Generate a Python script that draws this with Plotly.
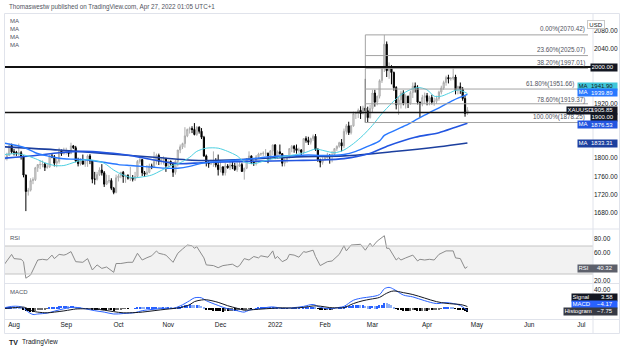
import plotly.graph_objects as go
import pandas as pd

# ---------------- data ----------------
bars = pd.bdate_range("2021-07-26", "2022-04-26")  # daily XAUUSD bars

opens = [
    1802, 1797, 1799, 1806, 1828,
    1814, 1813, 1810, 1812, 1804, 1763, 1727, 1730, 1751, 1753, 1779, 1786, 1786, 1787, 1780, 1781, 1805, 1803, 1789, 1793, 1817, 1810,
    1814, 1815, 1810, 1827, 1823, 1794, 1788, 1794, 1787, 1794, 1805, 1794, 1754, 1754, 1764, 1774, 1768, 1743, 1750, 1751, 1734, 1725,
    1757, 1761, 1769, 1760, 1762, 1756, 1757, 1754, 1760, 1793, 1797, 1768, 1765, 1769, 1783, 1782, 1793, 1806, 1793, 1797, 1799,
    1783, 1793, 1788, 1769, 1793, 1818, 1825, 1832, 1849, 1863, 1865, 1863, 1852, 1868, 1859, 1846, 1805, 1790, 1788, 1790, 1792, 1785,
    1775, 1781, 1768, 1783, 1779, 1785, 1783, 1775, 1783, 1786, 1771, 1778, 1799, 1805, 1791, 1789, 1803, 1809, 1810, 1811, 1811, 1805, 1816,
    1829, 1801, 1814, 1810, 1789, 1797, 1801, 1821, 1826, 1821, 1817, 1818, 1813, 1843, 1839, 1835, 1843, 1848, 1819, 1797, 1791,
    1797, 1801, 1807, 1804, 1808, 1821, 1826, 1834, 1827, 1859, 1871, 1856, 1871, 1898, 1898, 1905, 1898, 1910, 1904, 1889,
    1909, 1943, 1923, 1936, 1970, 1998, 2050, 1992, 2000, 1988, 1955, 1917, 1928, 1943, 1921, 1936, 1921, 1944, 1958, 1954, 1923, 1919, 1933,
    1937, 1925, 1933, 1923, 1925, 1931, 1945, 1954, 1966, 1977, 1974, 1975, 1978, 1949, 1957, 1951, 1931, 1898,
]
highs = [
    1810, 1806, 1812, 1832, 1832,
    1820, 1816, 1832, 1816, 1806, 1764, 1735, 1756, 1758, 1781, 1787, 1795, 1795, 1790, 1787, 1806, 1810, 1807, 1800, 1823, 1819, 1823,
    1823, 1816, 1834, 1829, 1827, 1801, 1800, 1808, 1796, 1808, 1809, 1796, 1770, 1770, 1780, 1787, 1772, 1764, 1763, 1756, 1737, 1764,
    1765, 1770, 1772, 1764, 1765, 1781, 1763, 1770, 1796, 1800, 1798, 1772, 1785, 1788, 1788, 1814, 1810, 1810, 1802, 1804, 1801,
    1795, 1795, 1791, 1797, 1818, 1830, 1834, 1868, 1865, 1869, 1870, 1877, 1870, 1870, 1866, 1849, 1808, 1794, 1797, 1815, 1800, 1808,
    1792, 1782, 1790, 1787, 1793, 1793, 1790, 1791, 1792, 1790, 1779, 1800, 1815, 1806, 1795, 1807, 1812, 1812, 1815, 1820, 1812, 1818, 1830,
    1831, 1817, 1830, 1811, 1800, 1805, 1822, 1829, 1829, 1830, 1823, 1820, 1844, 1848, 1847, 1845, 1852, 1853, 1822, 1799, 1802,
    1806, 1812, 1808, 1816, 1822, 1828, 1836, 1842, 1865, 1875, 1880, 1873, 1902, 1902, 1909, 1914, 1915, 1974, 1913, 1917,
    1950, 1950, 1937, 1973, 2002, 2070.42, 2056, 2010, 2004, 1990, 1958, 1934, 1948, 1949, 1940, 1937, 1948, 1966, 1966, 1960, 1924, 1939, 1944,
    1943, 1937, 1939, 1933, 1937, 1948, 1959, 1970, 1981, 1983, 1978, 1998, 1983, 1959, 1966, 1956, 1937, 1912,
]
lows = [
    1794, 1791, 1795, 1805, 1810,
    1806, 1805, 1805, 1797, 1758, 1684, 1718, 1727, 1743, 1750, 1770, 1776, 1780, 1772, 1777, 1779, 1800, 1782, 1780, 1788, 1805, 1808,
    1808, 1803, 1809, 1820, 1791, 1782, 1784, 1786, 1781, 1781, 1787, 1745, 1742, 1751, 1761, 1762, 1737, 1741, 1745, 1730, 1721, 1723,
    1749, 1756, 1746, 1746, 1753, 1750, 1749, 1750, 1757, 1788, 1761, 1759, 1763, 1767, 1776, 1778, 1786, 1785, 1786, 1786, 1770,
    1780, 1784, 1759, 1764, 1782, 1811, 1820, 1823, 1846, 1854, 1855, 1850, 1849, 1854, 1842, 1803, 1782, 1779, 1785, 1781, 1780, 1762,
    1769, 1762, 1762, 1777, 1774, 1776, 1772, 1770, 1781, 1770, 1753, 1776, 1795, 1787, 1783, 1784, 1799, 1805, 1805, 1805, 1789, 1797, 1807,
    1798, 1799, 1808, 1782, 1782, 1790, 1800, 1813, 1812, 1810, 1812, 1805, 1809, 1834, 1829, 1830, 1838, 1816, 1792, 1780, 1786,
    1795, 1799, 1788, 1791, 1805, 1816, 1823, 1815, 1822, 1852, 1851, 1852, 1869, 1886, 1888, 1886, 1896, 1878.25, 1879, 1887,
    1900, 1913, 1916, 1931, 1965, 1989, 1978, 1974, 1962, 1948, 1907, 1895, 1909, 1916, 1909, 1910, 1917, 1932, 1944, 1918, 1890, 1914, 1919,
    1916, 1916, 1918, 1915, 1919, 1926, 1940, 1950, 1959, 1964, 1970, 1971, 1940, 1940, 1941, 1926, 1891, 1895,
]
closes = [
    1797, 1799, 1806, 1828, 1814,
    1813, 1810, 1812, 1804, 1763, 1727, 1730, 1751, 1753, 1779, 1786, 1786, 1787, 1780, 1781, 1805, 1803, 1789, 1793, 1817, 1810, 1814,
    1815, 1810, 1827, 1823, 1794, 1788, 1794, 1787, 1794, 1805, 1794, 1754, 1754, 1764, 1774, 1768, 1743, 1750, 1751, 1734, 1725, 1757,
    1761, 1769, 1760, 1762, 1756, 1757, 1754, 1760, 1793, 1797, 1768, 1765, 1769, 1783, 1782, 1793, 1806, 1793, 1797, 1799, 1783,
    1793, 1788, 1769, 1793, 1818, 1825, 1832, 1849, 1863, 1865, 1863, 1852, 1868, 1859, 1846, 1805, 1790, 1788, 1790, 1792, 1785, 1775,
    1781, 1768, 1783, 1779, 1785, 1783, 1775, 1783, 1786, 1771, 1778, 1799, 1805, 1791, 1789, 1803, 1809, 1810, 1811, 1811, 1805, 1816, 1829,
    1801, 1814, 1810, 1789, 1797, 1801, 1821, 1826, 1821, 1817, 1818, 1813, 1843, 1839, 1835, 1843, 1848, 1819, 1797, 1791, 1797,
    1801, 1807, 1804, 1808, 1821, 1826, 1834, 1827, 1859, 1871, 1856, 1871, 1898, 1898, 1905, 1898, 1910, 1904, 1889, 1909,
    1943, 1923, 1936, 1970, 1998, 2050, 1992, 2000, 1988, 1955, 1917, 1928, 1943, 1921, 1936, 1921, 1944, 1958, 1954, 1923, 1919, 1933, 1937,
    1925, 1933, 1923, 1925, 1931, 1945, 1954, 1966, 1977, 1974, 1975, 1978, 1949, 1957, 1951, 1931, 1898, 1905.85,
]

ma20_dates = ["2021-07-27", "2021-08-03", "2021-08-09", "2021-08-13", "2021-08-19", "2021-08-25", "2021-08-31",
              "2021-09-07", "2021-09-13", "2021-09-17", "2021-09-23", "2021-09-29", "2021-10-05", "2021-10-11",
              "2021-10-15", "2021-10-21", "2021-10-27", "2021-11-02", "2021-11-08", "2021-11-12", "2021-11-17",
              "2021-11-23", "2021-11-30", "2021-12-06", "2021-12-10", "2021-12-15", "2021-12-21", "2021-12-28",
              "2022-01-04", "2022-01-10", "2022-01-14", "2022-01-20", "2022-01-26", "2022-02-01", "2022-02-07",
              "2022-02-11", "2022-02-17", "2022-02-23", "2022-03-01", "2022-03-07", "2022-03-11", "2022-03-16",
              "2022-03-22", "2022-03-28", "2022-04-01", "2022-04-06", "2022-04-11", "2022-04-14", "2022-04-20", "2022-04-26"]
ma20_vals = [1808, 1810, 1806, 1799, 1790, 1784, 1784, 1792, 1797, 1795, 1789, 1774, 1763, 1757, 1759, 1763, 1773,
             1783, 1790, 1802, 1815, 1822, 1822, 1815, 1805, 1792, 1788, 1795, 1801, 1805, 1808, 1813, 1820, 1816,
             1812, 1818, 1832, 1850, 1872, 1898, 1920, 1935, 1948, 1955, 1950, 1936, 1936, 1942, 1950, 1941.90]

ma50_dates = ["2021-07-27", "2021-08-06", "2021-08-13", "2021-08-20", "2021-08-27", "2021-09-03", "2021-09-10",
              "2021-09-17", "2021-09-24", "2021-10-01", "2021-10-08", "2021-10-15", "2021-10-22", "2021-10-29",
              "2021-11-05", "2021-11-12", "2021-11-19", "2021-11-26", "2021-12-03", "2021-12-10", "2021-12-17",
              "2021-12-24", "2021-12-31", "2022-01-07", "2022-01-14", "2022-01-21", "2022-01-28", "2022-02-04",
              "2022-02-11", "2022-02-18", "2022-02-25", "2022-03-04", "2022-03-08", "2022-03-14", "2022-03-21",
              "2022-03-28", "2022-04-04", "2022-04-11", "2022-04-18", "2022-04-26"]
ma50_vals = [1833, 1824, 1812, 1805, 1800, 1798, 1797, 1794, 1790, 1786, 1784, 1782, 1780, 1778, 1778, 1782, 1789,
             1792, 1794, 1796, 1798, 1801, 1804, 1805, 1806, 1807, 1806, 1806, 1808, 1815, 1826, 1838, 1850, 1860,
             1872, 1886, 1900, 1913, 1927, 1939.89]

ma100_dates = ["2021-07-27", "2021-08-13", "2021-08-27", "2021-09-10", "2021-09-24", "2021-10-08", "2021-10-22",
               "2021-11-05", "2021-11-19", "2021-12-03", "2021-12-17", "2021-12-31", "2022-01-14", "2022-01-28",
               "2022-02-11", "2022-02-25", "2022-03-10", "2022-03-25", "2022-04-08", "2022-04-19", "2022-04-26"]
ma100_vals = [1800, 1806, 1812, 1815, 1812, 1806, 1796, 1788, 1790, 1792, 1793, 1794, 1795, 1796, 1799, 1809,
              1828, 1846, 1856, 1868, 1876.53]

ma200_dates = ["2021-07-27", "2021-08-27", "2021-09-24", "2021-10-22", "2021-11-19", "2021-12-17", "2022-01-14",
               "2022-02-11", "2022-03-11", "2022-04-08", "2022-04-26"]
ma200_vals = [1825, 1818, 1810, 1802, 1795, 1798, 1803, 1805, 1814, 1825, 1833.31]

# RSI (14): bar number, value
rsi_bar = [1, 4, 5, 8, 9, 10, 12, 15, 17, 19, 21, 22, 24, 26, 27, 29, 31, 34, 36, 38, 40, 42, 44, 47, 48, 50, 53, 55,
           57, 59, 61, 63, 65, 66, 68, 69, 72, 74, 76, 78, 80, 81, 82, 85, 86, 89, 91, 93, 95, 97, 99, 100, 102, 104,
           106, 108, 109, 112, 114, 115, 116, 118, 120, 121, 123, 125, 127, 128, 131, 132, 134, 135, 137, 139, 141,
           142, 144, 145, 147, 149, 151, 153, 155, 156, 158, 161, 162, 163, 166, 167, 168, 170, 173, 175, 176, 178,
           180, 182, 184, 187, 190, 191, 193, 195, 196]
rsi_vals = [44, 58, 52, 51, 47.6, 24, 28.6, 50, 51, 50, 57, 52, 58, 57, 58, 62, 47.6, 46.7, 52, 35.7, 43, 38, 40,
            32.4, 45, 45, 46.7, 46.7, 59.6, 50, 53.3, 56, 62.9, 59.6, 58, 57, 46.7, 59.6, 65.7, 71.4, 70.4, 66.7, 69,
            53, 43, 42, 39, 42, 43, 44, 40, 42, 52, 50, 55, 53, 56, 54, 63, 52, 55, 47.6, 51, 58, 57, 54, 62, 61, 64,
            55, 42, 44, 47.6, 48.6, 55, 58, 70.4, 63, 71.4, 72.4, 72.4, 64, 74, 69, 77, 84.7, 66.7, 66.7, 50, 53, 50,
            53, 57, 48.6, 51, 50, 51, 50, 58, 63, 63, 53, 52, 38, 40.32]

# MACD (12, 26, 9)
macd_dates = ["2021-07-26", "2021-07-30", "2021-08-04", "2021-08-06", "2021-08-09", "2021-08-12", "2021-08-16",
              "2021-08-20", "2021-08-25", "2021-08-31", "2021-09-03", "2021-09-07", "2021-09-13", "2021-09-17",
              "2021-09-23", "2021-09-29", "2021-10-05", "2021-10-12", "2021-10-15", "2021-10-22", "2021-10-29",
              "2021-11-03", "2021-11-08", "2021-11-12", "2021-11-16", "2021-11-19", "2021-11-23", "2021-11-30",
              "2021-12-06", "2021-12-10", "2021-12-15", "2021-12-17", "2021-12-23", "2021-12-31", "2022-01-06",
              "2022-01-12", "2022-01-19", "2022-01-25", "2022-01-28", "2022-02-03", "2022-02-09", "2022-02-11",
              "2022-02-17", "2022-02-23", "2022-02-28", "2022-03-04", "2022-03-08", "2022-03-10", "2022-03-14",
              "2022-03-18", "2022-03-24", "2022-03-31", "2022-04-07", "2022-04-13", "2022-04-18", "2022-04-21",
              "2022-04-25", "2022-04-26"]
macd_vals = [0, 4, 4, 1, -4, -13, -12, -10, -6, -1, 2, 2, -1, -5, -8, -12, -11, -9, -5, -2, 0, 0, 5, 16, 22, 22,
             16, 6, -1, -5, -8, -4, -1, 3, 0, 1, 4, 8, 2, -1, 2, 4, 17, 22, 24, 29, 41, 44, 40, 28, 24, 16, 10, 12,
             10, 6, -1, -4.17]
signal_vals = [-1, 1, 2, 2.5, 1, -6, -8, -9.5, -8, -5.5, -3, -1.5, -1, -1.5, -4, -7, -9.5, -9, -8, -5, -2, -0.5,
               1.5, 7.5, 14, 17.5, 18, 12.5, 5.5, 0, -4, -3.5, -2, 0, 1, 0.5, 2, 5, 4.5, 1.5, 1, 1.5, 10, 16, 19, 23,
               29, 34, 36.5, 33, 29, 21.5, 14, 10.5, 9.2, 8, 5.5, 3.58]
hist_vals = [
    1, 1.5, 2, 3, 3,
    2.5, 2, 1.5, 0.5, -1.5, -5, -6.5, -7, -7, -5.5, -4, -3, -2, -1.5, -0.5, 1, 2, 2, 2.5, 4, 4.5, 4.5,
    4.5, 4, 5, 5, 3.5, 2, 1.5, 0.5, 0, 0.5, 0, -2.5, -4, -4, -3.5, -3.5, -4.5, -4.5, -4, -4.5, -5, -3.5,
    -2.5, -1.5, -1, -0.5, -0.5, 0, 0, 0.5, 2, 3, 2.5, 2, 2, 2.5, 2.5, 3, 3.5, 3, 2.5, 2.5, 1.5,
    1.5, 1, -0.5, 0.5, 2, 3.5, 4.5, 6.5, 8, 8.5, 8, 7, 7, 6, 4.5, 1, -2, -3.5, -4.5, -5, -5.5, -6.5,
    -6.5, -7, -6.5, -6.5, -6, -5.5, -5.5, -5, -4.5, -4.5, -4, -2, -0.5, -0.5, 0, 0.5, 1, 1.5, 1.5, 1.5, 1, 1.5, 2.5,
    1, 1, 0.5, -1, -1, -1, 0, 0.5, 0.5, 0.5, 0.5, 0, 2, 2.5, 2.5, 3, 3, 1.5, -1, -2.5, -3,
    -3, -2.5, -2.5, -2, -1, 0, 1, 1, 3, 5, 5, 5.5, 7, 7, 7, 6, 6, 5.5, 4, 4,
    5, 4, 4, 6, 8, 12, 11, 9, 7, 3.5, -1, -3, -4, -5, -5, -5.5, -5, -4.5, -4.5, -5.5, -6, -5.5, -5,
    -5, -4.5, -4.5, -4, -3.5, -2, -0.5, 1, 2, 2, 1.5, 1, -1, -1.5, -2, -3.5, -6.5, -7.75,
]

# Fibonacci retracement (Feb 24 low -> Mar 8 high)
fib_start = "2022-02-24"
fib_end = "2022-07-05 19:00"
fib_levels = [2070.42, 2025.07, 1997.01, 1951.66, 1919.37, 1878.25]
fib_texts = ["0.00%(2070.42)", "23.60%(2025.07)", "38.20%(1997.01)", "61.80%(1951.66)",
             "78.60%(1919.37)", "100.00%(1878.25)"]
hlines = [2000, 1900]

month_ticks = ["2021-08-02", "2021-09-01", "2021-10-01", "2021-11-01", "2021-12-01", "2022-01-03",
               "2022-02-01", "2022-03-01", "2022-04-01", "2022-05-02", "2022-06-01", "2022-07-01"]
month_labels = ["Aug", "Sep", "Oct", "Nov", "Dec", "2022", "Feb", "Mar", "Apr", "May", "Jun", "Jul"]
price_ticks = [1680, 1720, 1760, 1800, 1920, 2040, 2080]
rsi_ticks = [20, 60, 80]
macd_ticks = [40]

# ---------------- geometry helpers ----------------
W, H = 624, 350
ML, MR, MT, MB = 5, 31, 14, 31
PW, PH = W - ML - MR, H - MT - MB

# pixel scales of the three panes
MAIN_Y2000, MAIN_K = 67, 0.456      # 2000 at y=67px, px per dollar
RSI_Y80, RSI_K = 239, 0.7
MACD_Y0, MACD_K = 308.3, 0.475


def px(x):
    return (x - ML) / PW


def py(y):
    return (H - MB - y) / PH


def main_at(y):
    return 2000 - (y - MAIN_Y2000) / MAIN_K


def rsi_at(y):
    return 80 - (y - RSI_Y80) / RSI_K


def macd_at(y):
    return (MACD_Y0 - y) / MACD_K


FONT = "Liberation Sans"
C_TXT = "#131722"
C20, C50, C100, C200 = "#4dd0e1", "#2979ff", "#2255e0", "#1c3f9e"

fig = go.Figure()

fig.add_trace(go.Candlestick(
    x=bars, open=opens, high=highs, low=lows, close=closes,
    increasing=dict(line=dict(color="#ababab", width=1), fillcolor="#e4e4e4"),
    decreasing=dict(line=dict(color="#000000", width=1), fillcolor="#000000"),
    whiskerwidth=0, xaxis="x", yaxis="y", hoverinfo="skip"))

for d, v, c, w in [(ma200_dates, ma200_vals, C200, 1.6), (ma100_dates, ma100_vals, C100, 1.6),
                   (ma50_dates, ma50_vals, C50, 1.4), (ma20_dates, ma20_vals, C20, 1.0)]:
    fig.add_trace(go.Scatter(x=d, y=v, mode="lines", line=dict(color=c, width=w, shape="spline", smoothing=0.8),
                             xaxis="x", yaxis="y", hoverinfo="skip"))

fig.add_trace(go.Scatter(x=[bars[i] for i in rsi_bar], y=rsi_vals, mode="lines",
                         line=dict(color="#8c8c8c", width=1), xaxis="x", yaxis="y2", hoverinfo="skip"))

hist_colors = []
for i, h in enumerate(hist_vals):
    prev = hist_vals[i - 1] if i else h
    if h >= 0:
        hist_colors.append("#2962ff" if h >= prev else "#8fb0f5")
    else:
        hist_colors.append("#000000" if h <= prev else "#6e6e6e")
fig.add_trace(go.Bar(x=bars, y=hist_vals, marker=dict(color=hist_colors, line=dict(width=0)),
                     width=0.55 * 86400000, xaxis="x", yaxis="y3", hoverinfo="skip"))
fig.add_trace(go.Scatter(x=macd_dates, y=macd_vals, mode="lines", line=dict(color="#2962ff", width=1, shape="spline"),
                         xaxis="x", yaxis="y3", hoverinfo="skip"))
fig.add_trace(go.Scatter(x=macd_dates, y=signal_vals, mode="lines", line=dict(color="#131722", width=1, shape="spline"),
                         xaxis="x", yaxis="y3", hoverinfo="skip"))

main_rng = [main_at(228), main_at(14)]
rsi_rng = [rsi_at(283), rsi_at(230)]
macd_rng = [macd_at(319), macd_at(284)]

tickfont = dict(family=FONT, size=6.5, color=C_TXT)
fig.update_layout(
    width=W, height=H, margin=dict(l=ML, r=MR, t=MT, b=MB),
    paper_bgcolor="white", plot_bgcolor="white", showlegend=False,
    font=dict(family=FONT, size=6.5, color=C_TXT), bargap=0,
    xaxis=dict(type="date", range=["2021-07-27 05:00", "2022-07-07 21:36"],
               rangebreaks=[dict(bounds=["sat", "mon"])], anchor="y3",
               tickvals=month_ticks, ticktext=month_labels, tickfont=tickfont,
               showgrid=False, zeroline=False, showline=False, ticks="",
               rangeslider=dict(visible=False)),
    yaxis=dict(domain=[py(228), py(14)], range=main_rng, side="right", anchor="x",
               tickvals=price_ticks, ticktext=[f"{v:.2f}" for v in price_ticks], tickfont=tickfont,
               showgrid=False, zeroline=False, ticks=""),
    yaxis2=dict(domain=[py(283), py(230)], range=rsi_rng, side="right", anchor="x",
                tickvals=rsi_ticks, ticktext=[f"{v:.2f}" for v in rsi_ticks], tickfont=tickfont,
                showgrid=False, zeroline=False, ticks=""),
    yaxis3=dict(domain=[py(319), py(284)], range=macd_rng, side="right", anchor="x",
                tickvals=macd_ticks, ticktext=[f"{v:.2f}" for v in macd_ticks], tickfont=tickfont,
                showgrid=False, zeroline=False, ticks=""),
)

shapes = []
# RSI band
shapes.append(dict(type="rect", xref="paper", yref="y2", x0=0, x1=1, y0=30, y1=70,
                   fillcolor="#f2f2f2", line=dict(width=0), layer="below"))
for lv in (30, 70):
    shapes.append(dict(type="line", xref="paper", yref="y2", x0=0, x1=1, y0=lv, y1=lv,
                       line=dict(color="#c4c4c4", width=1)))
# fib
for lv in fib_levels:
    shapes.append(dict(type="line", xref="x", yref="y", x0=fib_start, x1=fib_end, y0=lv, y1=lv,
                       line=dict(color="#a3a3a3", width=1)))
shapes.append(dict(type="line", xref="x", yref="y", x0=fib_start, x1=fib_start,
                   y0=fib_levels[-1], y1=fib_levels[0], line=dict(color="#a3a3a3", width=1)))
# key horizontal levels
shapes.append(dict(type="line", xref="paper", yref="y", x0=0, x1=1, y0=hlines[0], y1=hlines[0],
                   line=dict(color="#111111", width=2)))
shapes.append(dict(type="line", xref="paper", yref="y", x0=0, x1=1, y0=hlines[1], y1=hlines[1],
                   line=dict(color="#111111", width=1.5)))
# frame and separators
sep = "#e0e3eb"
shapes.append(dict(type="rect", xref="paper", yref="paper", x0=px(4.5), x1=px(619.5), y0=py(333.5), y1=py(13.5),
                   line=dict(color=sep, width=1)))
for yy in (229, 283.5, 319.5):
    shapes.append(dict(type="line", xref="paper", yref="paper", x0=px(4.5), x1=px(619.5), y0=py(yy), y1=py(yy),
                       line=dict(color=sep, width=1)))
shapes.append(dict(type="line", xref="paper", yref="paper", x0=px(593), x1=px(593), y0=py(333.5), y1=py(13.5),
                   line=dict(color=sep, width=1)))
fig.update_layout(shapes=shapes)

ann = []


def text(x, y, s, size=6.5, color=C_TXT, xanchor="left"):
    ann.append(dict(x=px(x), y=py(y), xref="paper", yref="paper", text=s,
                    showarrow=False, xanchor=xanchor, yanchor="middle",
                    font=dict(family=FONT, size=size, color=color)))


def box(x0, x1, yval, yref, left, right, bg, fg="white"):
    ann.append(dict(x=px((x0 + x1) / 2), y=yval, xref="paper", yref=yref, text=left, showarrow=False,
                    xanchor="center", yanchor="middle", width=x1 - x0 - 1, height=5.5, align="left",
                    bgcolor=bg, borderpad=0.5, font=dict(family=FONT, size=6, color=fg)))
    if right:
        ann.append(dict(x=px(x1 - 2), y=yval, xref="paper", yref=yref, text=right, showarrow=False,
                        xanchor="right", yanchor="middle", font=dict(family=FONT, size=6, color=fg)))


# header and legends
text(7, 6.5, "Thomaswestw published on TradingView.com, Apr 27, 2022 01:05 UTC+1", size=6.3, color="#50535e")
for yy in (21, 29, 37, 45):
    text(8, yy, "MA", size=6, color="#50535e")
text(8, 238, "RSI", size=6, color="#50535e")
text(8, 292, "MACD", size=6, color="#50535e")
text(7, 342, "<b>TV</b>", size=7, color="#131722")
text(20, 342, "TradingView", size=6.5, color="#131722")

# fib labels (the 61.8% one sits left of the MA price boxes so it stays readable)
fib_label_right = [587, 587, 587, 576, 587, 587]
fib_label_shift = [-0.5, -0.5, -0.5, -0.5, -2.5, -0.5]
for lv, s, xr, ys in zip(fib_levels, fib_texts, fib_label_right, fib_label_shift):
    ann.append(dict(x=px(xr), y=lv, xref="paper", yref="y", text=s, showarrow=False, xanchor="right",
                    yanchor="bottom", yshift=ys, font=dict(family=FONT, size=6.3, color="#50535e")))

# price-axis labels
ann.append(dict(x=px(605), y=py(19.5), xref="paper", yref="paper", text="USD", showarrow=False,
                width=16, height=7, bgcolor="white", bordercolor="#c8c8c8", borderwidth=1, borderpad=0,
                font=dict(family=FONT, size=6, color=C_TXT)))
box(591, 617, 2000, "y", "2000.00", None, "#131722")
box(578, 617, main_at(86), "y", "MA", "1941.90", "#3fc6d8", fg="#131722")
box(578, 617, main_at(92.8), "y", "MA", "1939.89", C50)
box(567, 617, main_at(110), "y", "XAUUSD", "1905.85", "#131722")
box(591, 617, main_at(117), "y", "1900.00", None, "#131722")
box(578, 617, main_at(124.5), "y", "MA", "1876.53", C100)
box(578, 617, main_at(143), "y", "MA", "1833.31", C200)
box(578, 617, rsi_at(268), "y2", "RSI", "40.32", "#5d606b")
box(572, 617, macd_at(297), "y3", "Signal", "3.58", "#131722")
box(572, 617, macd_at(304), "y3", "MACD", "\u22124.17", "#2962ff")
box(564, 617, macd_at(311), "y3", "Histogram", "\u22127.75", "#363a45")

fig.update_layout(annotations=ann)
fig.write_html("out.html")
